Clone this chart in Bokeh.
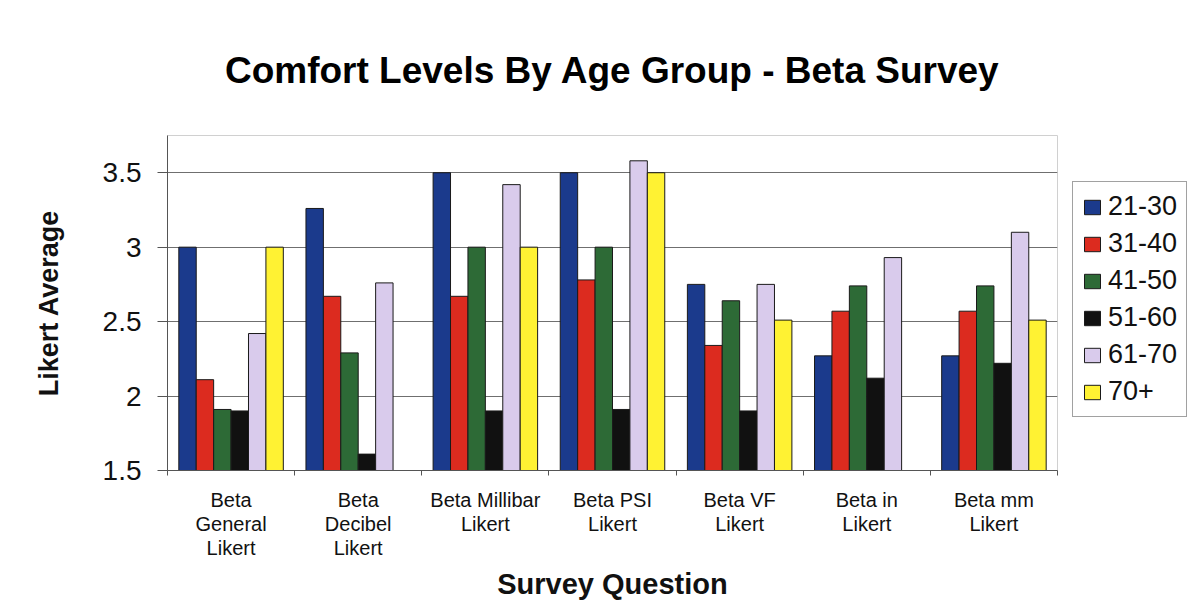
from bokeh.plotting import figure
from bokeh.models import (ColumnDataSource, Range1d, FixedTicker, Legend, LegendItem)
from bokeh.transform import dodge
from bokeh.embed import file_html
from bokeh.resources import INLINE

categories = ["Beta\nGeneral\nLikert", "Beta\nDecibel\nLikert", "Beta Millibar\nLikert",
              "Beta PSI\nLikert", "Beta VF\nLikert", "Beta in\nLikert", "Beta mm\nLikert"]
age_groups = ["21-30", "31-40", "41-50", "51-60", "61-70", "70+"]
nan = float("nan")
v_21_30 = [3.00, 3.26, 3.50, 3.50, 2.75, 2.27, 2.27]
v_31_40 = [2.11, 2.67, 2.67, 2.78, 2.34, 2.57, 2.57]
v_41_50 = [1.91, 2.29, 3.00, 3.00, 2.64, 2.74, 2.74]
v_51_60 = [1.90, 1.61, 1.90, 1.91, 1.90, 2.12, 2.22]
v_61_70 = [2.42, 2.76, 3.42, 3.58, 2.75, 2.93, 3.10]
v_70p = [3.00, nan, 3.00, 3.50, 2.51, nan, 2.51]
series = [v_21_30, v_31_40, v_41_50, v_51_60, v_61_70, v_70p]
colors = ["#1B3A8C", "#DC2B1F", "#2D6A36", "#111111", "#D9CBEC", "#FFF233"]
y_ticks = [1.5, 2, 2.5, 3, 3.5]
y_tick_labels = ["1.5", "2", "2.5", "3", "3.5"]

FONT = "Liberation Sans"
n = len(categories)
xs = [i + 0.5 for i in range(n)]
data = {"x": xs}
for g, vals in zip(age_groups, series):
    data[g] = vals
src = ColumnDataSource(data)

p = figure(frame_width=890, frame_height=335, output_backend="svg", toolbar_location=None,
           x_range=Range1d(0, n), y_range=Range1d(1.5, 3.75),
           min_border_left=167, min_border_right=130, min_border_top=135,
           min_border_bottom=144)

bw = 0.137
renderers = []
for j, (g, c) in enumerate(zip(age_groups, colors)):
    r = p.vbar(x=dodge("x", (j - 2.5) * bw, range=p.x_range), top=g, bottom=1.5,
               width=bw, source=src, fill_color=c, line_color="#1a1a1a", line_width=1)
    renderers.append(r)

# title
p.title.text = "Comfort Levels By Age Group - Beta Survey"
p.title.text_font = FONT
p.title.text_font_size = "37px"
p.title.text_font_style = "bold"
p.title.align = "center"
p.title.standoff = 90
p.title.text_color = "#000000"

# axes
p.xaxis.ticker = FixedTicker(ticks=xs, minor_ticks=list(range(n + 1)))
p.xaxis.major_label_overrides = {x: c for x, c in zip(xs, categories)}
p.xaxis.major_tick_out = 0
p.xaxis.major_tick_in = 0
p.xaxis.minor_tick_out = 5
p.xaxis.minor_tick_in = 0
p.xaxis.major_label_text_font = FONT
p.xaxis.major_label_text_font_size = "20px"
p.xaxis.major_label_text_line_height = 1.1
p.xaxis.major_label_text_color = "#111111"
p.xaxis.major_label_standoff = 13
p.xaxis.axis_label = "Survey Question"
p.xaxis.axis_label_text_font = FONT
p.xaxis.axis_label_text_font_size = "29px"
p.xaxis.axis_label_text_font_style = "bold"
p.xaxis.axis_label_text_color = "#111111"
p.xaxis.axis_label_standoff = 6
p.xaxis.axis_line_color = "#555555"
p.xaxis.minor_tick_line_color = "#555555"

p.yaxis.ticker = FixedTicker(ticks=y_ticks)
p.yaxis.major_label_overrides = {t: l for t, l in zip(y_ticks, y_tick_labels)}
p.yaxis.major_tick_out = 10
p.yaxis.major_tick_in = 0
p.yaxis.minor_tick_out = 0
p.yaxis.minor_tick_in = 0
p.yaxis.major_label_text_font = FONT
p.yaxis.major_label_text_font_size = "28px"
p.yaxis.major_label_text_color = "#111111"
p.yaxis.major_label_standoff = 16
p.yaxis.axis_label = "Likert Average"
p.yaxis.axis_label_text_font = FONT
p.yaxis.axis_label_text_font_size = "27px"
p.yaxis.axis_label_text_font_style = "bold"
p.yaxis.axis_label_text_color = "#111111"
p.yaxis.axis_label_standoff = 36
p.yaxis.axis_line_color = "#555555"
p.yaxis.major_tick_line_color = "#555555"

p.xgrid.grid_line_color = None
p.ygrid.ticker = FixedTicker(ticks=y_ticks[1:])
p.ygrid.grid_line_color = "#6f6f6f"
p.ygrid.grid_line_width = 1
p.outline_line_color = "#d0d0d0"

legend = Legend(items=[LegendItem(label=g, renderers=[r]) for g, r in zip(age_groups, renderers)],
                location=(15, 53), margin=15, padding=9, spacing=6,
                glyph_width=20, glyph_height=18, label_height=30, label_standoff=6,
                label_text_font=FONT, label_text_font_size="27px", label_text_color="#111111",
                border_line_color="#444444", border_line_width=1.5,
                background_fill_color="white", background_fill_alpha=1.0)
p.add_layout(legend, "right")

open("out.html", "w").write(file_html(p, INLINE))
